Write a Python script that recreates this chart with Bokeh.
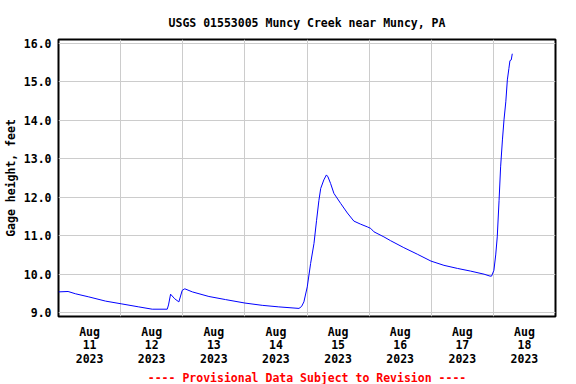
from bokeh.plotting import figure
from bokeh.models import Range1d, FixedTicker, Title, PrintfTickFormatter
from bokeh.embed import file_html
from bokeh.resources import INLINE

# Hours since 2023-08-11 00:00 and gage height (feet)
hours = [0.0, 3.7, 6.6, 11.7, 18.2, 24.2, 31.0, 36.2, 42.0, 42.5, 43.3, 44.9, 46.5,
         47.8, 48.8, 51.7, 58.1, 64.5, 72.0, 78.7, 85.1, 92.9, 93.9, 94.8, 96.1,
         97.4, 98.7, 99.7, 100.6, 101.3, 102.5, 103.5, 104.1, 105.1, 106.4, 109.0,
         111.6, 114.1, 116.7, 119.3, 120.6, 121.9, 125.7, 128.3, 133.4, 138.6,
         143.9, 148.9, 154.1, 159.2, 164.4, 166.7, 167.3, 168.2, 168.9, 169.5,
         170.2, 170.8, 171.5, 172.1, 172.8, 173.4, 174.0, 174.4, 174.9, 175.3]
gage = [9.54, 9.55, 9.49, 9.41, 9.30, 9.23, 9.15, 9.09, 9.09, 9.20, 9.48, 9.36, 9.28,
        9.58, 9.62, 9.54, 9.42, 9.34, 9.25, 9.19, 9.15, 9.11, 9.16, 9.28, 9.67,
        10.28, 10.80, 11.40, 11.92, 12.23, 12.45, 12.58, 12.53, 12.36, 12.10, 11.84,
        11.59, 11.38, 11.30, 11.23, 11.19, 11.10, 10.97, 10.87, 10.69, 10.52,
        10.34, 10.23, 10.15, 10.08, 10.00, 9.95, 9.95, 10.10, 10.50, 10.97,
        11.92, 12.79, 13.49, 14.01, 14.48, 15.05, 15.35, 15.55, 15.57, 15.73]

day_label_hours = [12, 36, 60, 84, 108, 132, 156, 180]
day_labels = ["Aug\n11\n2023", "Aug\n12\n2023", "Aug\n13\n2023", "Aug\n14\n2023",
              "Aug\n15\n2023", "Aug\n16\n2023", "Aug\n17\n2023", "Aug\n18\n2023"]
midnight_hours = [24, 48, 72, 96, 120, 144, 168]
y_ticks = [9, 10, 11, 12, 13, 14, 15, 16]

FONT = "DejaVu Sans Mono"
FS = "11.5px"

p = figure(width=576, height=384, output_backend="svg", toolbar_location=None,
           x_range=Range1d(0, 192), y_range=Range1d(8.9, 16.1),
           min_border_left=58, min_border_right=21, min_border_top=39,
           min_border_bottom=68, background_fill_color="white",
           border_fill_color="white")

p.title.text = "USGS 01553005 Muncy Creek near Muncy, PA"
p.title.align = "center"
p.title.text_font = FONT
p.title.text_font_size = FS
p.title.text_font_style = "bold"
p.title.text_color = "black"
p.title.standoff = 19

p.line(hours, gage, line_color="#0000ff", line_width=1)

p.outline_line_color = "black"
p.outline_line_width = 2

# x axis
p.xaxis.ticker = FixedTicker(ticks=day_label_hours)
p.xaxis.major_label_overrides = dict(zip(day_label_hours, day_labels))
p.xaxis.major_label_text_font = FONT
p.xaxis.major_label_text_font_size = FS
p.xaxis.major_label_text_font_style = "bold"
p.xaxis.major_label_text_color = "black"
p.xaxis.major_label_text_line_height = 0.97
p.xaxis.major_label_standoff = 8
p.xaxis.axis_line_color = None
p.xaxis.major_tick_line_color = None
p.xaxis.minor_tick_line_color = None
p.xaxis.major_tick_out = 0
p.xaxis.major_tick_in = 0

# y axis
p.yaxis.ticker = FixedTicker(ticks=y_ticks)
p.yaxis.formatter = PrintfTickFormatter(format="%.1f")
p.yaxis.axis_label = "Gage height, feet"
p.yaxis.axis_label_text_font = FONT
p.yaxis.axis_label_text_font_size = FS
p.yaxis.axis_label_text_font_style = "bold"
p.yaxis.axis_label_text_color = "black"
p.yaxis.axis_label_standoff = 3
p.yaxis.major_label_text_font = FONT
p.yaxis.major_label_text_font_size = FS
p.yaxis.major_label_text_font_style = "bold"
p.yaxis.major_label_text_color = "black"
p.yaxis.major_label_standoff = 7
p.yaxis.axis_line_color = None
p.yaxis.major_tick_line_color = None
p.yaxis.minor_tick_line_color = None
p.yaxis.major_tick_out = 0
p.yaxis.major_tick_in = 0

# grids
p.xgrid.ticker = FixedTicker(ticks=midnight_hours)
p.ygrid.ticker = FixedTicker(ticks=y_ticks)
p.xgrid.grid_line_color = "#cccccc"
p.ygrid.grid_line_color = "#cccccc"
p.xgrid.grid_line_width = 1
p.ygrid.grid_line_width = 1

note = Title(text="---- Provisional Data Subject to Revision ----", align="center",
             text_font=FONT, text_font_size=FS, text_font_style="bold",
             text_color="#ff0000", standoff=0)
p.add_layout(note, "below")

open("out.html", "w").write(file_html(p, INLINE))
